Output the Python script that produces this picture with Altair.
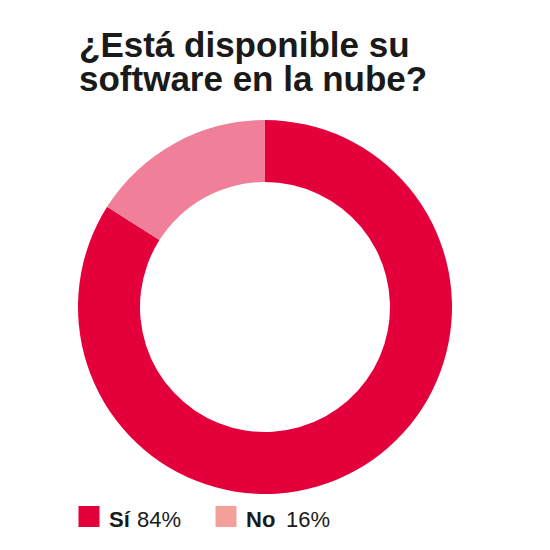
import altair as alt
import pandas as pd

# ---- data ----
categories = ["Sí", "No"]
shares = [84, 16]
share_labels = ["84%", "16%"]
title_lines = ["¿Está disponible su", "software en la nube?"]

df = pd.DataFrame({
    "cat": categories,
    "share": shares,
    "lbl": share_labels,
    "ord": list(range(len(categories))),
})

# ---- styles ----
slice_colors = ["#E4003A", "#F07F9A"]
swatch_colors = ["#E4003A", "#F4A09A"]
text_color = "#1a1a1a"
font = "Liberation Sans"
pct_dx = {"Sí": 48, "No": 60}

arc = alt.Chart(df).mark_arc(outerRadius=187, innerRadius=125, strokeWidth=0).encode(
    theta=alt.Theta("share:Q", stack=True),
    color=alt.Color("cat:N", scale=alt.Scale(domain=categories, range=slice_colors), legend=None),
    order=alt.Order("ord:Q"),
    x=alt.value(257),
    y=alt.value(299),
)

title = alt.Chart(pd.DataFrame({"t": ["\n".join(title_lines)]})).mark_text(
    align="left", baseline="alphabetic", lineBreak="\n", lineHeight=34,
    fontSize=35, fontWeight="bold", font=font, color=text_color,
).encode(text="t:N", x=alt.value(71), y=alt.value(49))

xscale = alt.Scale(type="point", domain=categories, range=[81, 218], padding=0)

layers = [arc, title]
for cat in categories:
    base = alt.Chart(df).transform_filter(alt.datum.cat == cat)
    sq = base.mark_square(size=441, opacity=1, strokeWidth=0).encode(
        x=alt.X("cat:N", scale=xscale, axis=None),
        y=alt.value(508.5),
        fill=alt.Fill("cat:N", scale=alt.Scale(domain=categories, range=swatch_colors), legend=None),
    )
    name = base.mark_text(
        align="left", baseline="alphabetic", dx=20, fontSize=22, fontWeight="bold",
        font=font, color=text_color,
    ).encode(x=alt.X("cat:N", scale=xscale, axis=None), y=alt.value(519), text="cat:N")
    pct = base.mark_text(
        align="left", baseline="alphabetic", dx=pct_dx[cat], fontSize=22, fontWeight="normal",
        font=font, color=text_color,
    ).encode(x=alt.X("cat:N", scale=xscale, axis=None), y=alt.value(519), text="lbl:N")
    layers += [sq, name, pct]

chart = alt.layer(*layers).properties(
    width=534, height=534,
    autosize=alt.AutoSizeParams(type="none"),
    padding=0,
).configure_view(stroke=None)

chart.save("out.html", embed_options={"renderer": "svg", "actions": False})
